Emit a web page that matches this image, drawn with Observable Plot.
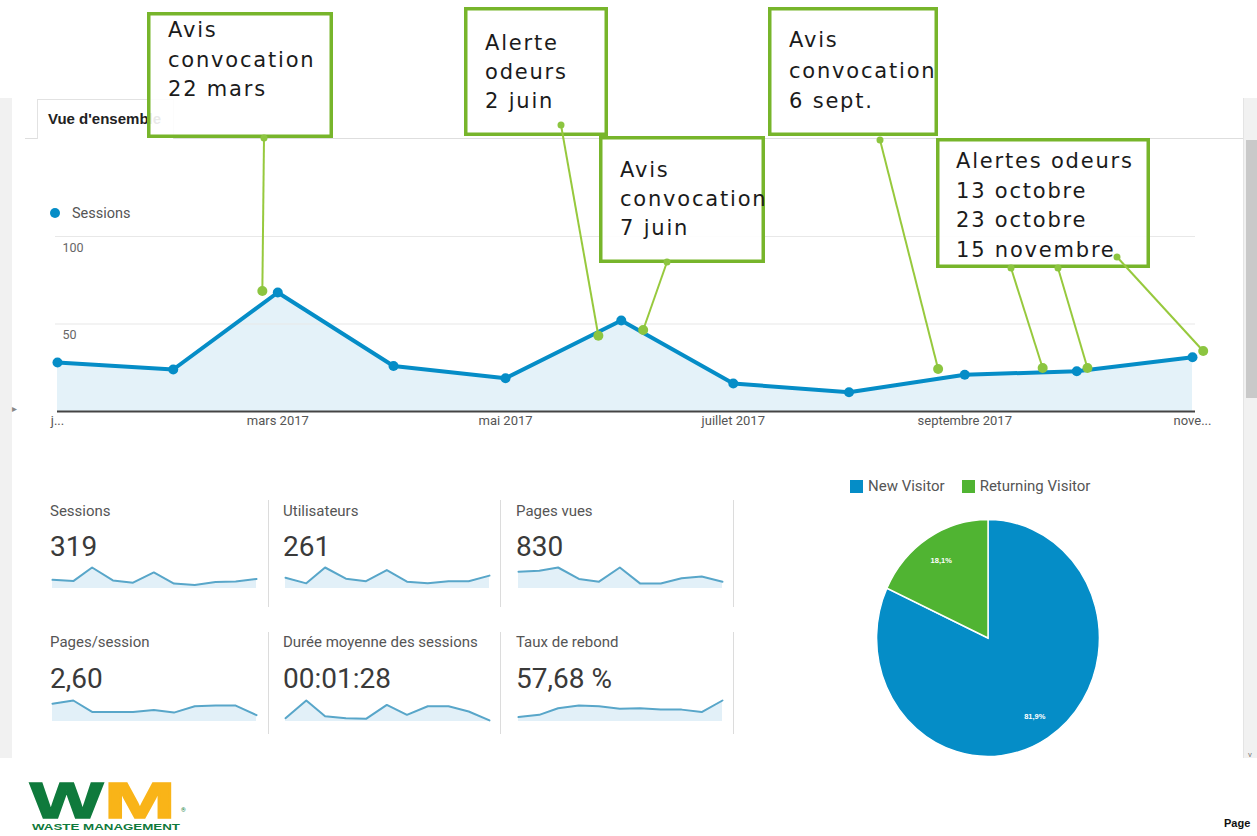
<!DOCTYPE html>
<html>
<head>
<meta charset="utf-8">
<script src="https://cdn.jsdelivr.net/npm/d3@7"></script>
<script src="https://cdn.jsdelivr.net/npm/@observablehq/plot@0.6"></script>
<style>
html, body { margin: 0; padding: 0; background: #fff; }
body { width: 1257px; height: 836px; overflow: hidden; position: relative; font-family: Roboto, "Liberation Sans", Arial, sans-serif; }
.abs { position: absolute; }
.kpi-label { font-size: 15px; line-height: 15px; color: #555; white-space: nowrap; }
.kpi-value { font-size: 28px; line-height: 28px; color: #3a3a3a; white-space: nowrap; }
.sep { position: absolute; width: 1px; background: #dcdcdc; }
#pieLegend > div { font-family: Roboto, Arial, sans-serif !important; font-size: 15px !important; color: #555 !important; min-height: 0 !important; margin: 0 !important; }
#pieLegend span { margin-right: 17px !important; }
#pieLegend svg { margin-right: 5px !important; }
</style>
</head>
<body>
<script>
// ---------------- DATA ----------------
const months = ["2017-01-01","2017-02-01","2017-03-01","2017-04-01","2017-05-01","2017-06-01","2017-07-01","2017-08-01","2017-09-01","2017-10-01","2017-11-01"];
const sessions = [28, 24, 68, 26, 19, 52, 16, 11, 21, 23, 31];

const xTickDates = ["2017-01-01","2017-03-01","2017-05-01","2017-07-01","2017-09-01","2017-11-01"];
const xTickLabels = ["j...","mars 2017","mai 2017","juillet 2017","septembre 2017","nove..."];
const yTicks = [50, 100];
const legendLabel = "Sessions";
const tabLabel = "Vue d'ensemble";

const annotationTexts = [
  ["Avis","convocation","22 mars"],
  ["Alerte","odeurs","2 juin"],
  ["Avis","convocation","7 juin"],
  ["Avis","convocation","6 sept."],
  ["Alertes odeurs","13 octobre","23 octobre","15 novembre"]
];
// green marker on the curve for each leader line (date, sessions) and the box it belongs to
const annotationDates  = ["2017-02-25","2017-05-26","2017-06-07","2017-08-25","2017-09-22","2017-10-04","2017-11-04"];
const annotationValues = [68.6, 43, 46.3, 24, 24.6, 24.6, 34.3];
const annotationBoxOf  = [0, 1, 2, 3, 4, 4, 4];

const kpiLabels = ["Sessions","Utilisateurs","Pages vues","Pages/session","Durée moyenne des sessions","Taux de rebond"];
const kpiValues = ["319","261","830","2,60","00:01:28","57,68 %"];
const sparkSessions       = sessions;
const sparkUsers          = [25, 12, 49, 23, 17, 43, 16, 12, 17, 17, 30];
const sparkPageviews      = [106, 111, 132, 60, 43, 132, 32, 32, 64, 75, 43];
const sparkPagesPerSession= [2.8, 3.3, 1.5, 1.5, 1.5, 1.8, 1.4, 2.4, 2.5, 2.5, 1.0];
const sparkDuration       = [25, 158, 40, 25, 20, 125, 50, 115, 115, 75, 8];
const sparkBounce         = [16, 24, 48, 58, 55, 46, 48, 43, 43, 34, 76];

const visitorTypes  = ["New Visitor","Returning Visitor"];
const visitorShares = [81.9, 18.1];
const visitorLabels = ["81,9%","18,1%"];

const logoLetters = ["W","M"];
const logoName = "WASTE MANAGEMENT";
const pageLabel = "Page";

// ---------------- LAYOUT (pixels) ----------------
const LAYOUT = {
  boxes: [
    {x0:147, y0:12,  x1:333,  y1:138, tx:168, ty:37,  lh:29.5},
    {x0:464, y0:7,   x1:608,  y1:136, tx:485, ty:50,  lh:29},
    {x0:599, y0:136, x1:765,  y1:263, tx:620, ty:177, lh:29},
    {x0:768, y0:7,   x1:938,  y1:136, tx:789, ty:47,  lh:30.5},
    {x0:936, y0:138, x1:1150, y1:268, tx:956, ty:168, lh:29.6}
  ],
  anchors: [[264,138],[561,125],[667,262],[880,140],[1011,268],[1058,268],[1117,257]],
  kpiCols: [50, 283, 516],
  kpiRows: [{label:504, value:533, spark:566}, {label:635, value:665, spark:699}]
};
const C = {
  blue: "#058dc7", area: "#e4f2f9", grid: "#e8e8e8", axis: "#444",
  boxStroke: "#77b52b", leader: "#97c93d", leaderDot: "#8cc540",
  spark: "#58a6c9", sparkFill: "#e2f0f8", green: "#50b432"
};

function add(html, style) {
  const d = document.createElement("div");
  d.className = "abs";
  if (html != null) d.textContent = html;
  Object.assign(d.style, style);
  document.body.appendChild(d);
  return d;
}

// ---------------- PANEL DECORATION ----------------
add(null, {left:"0px", top:"98px", width:"12px", height:"660px", background:"#f1f1f1"});
add(null, {left:"25px", top:"138px", width:"1218px", height:"1px", background:"#dedede"});
add(null, {left:"37px", top:"99px", width:"135px", height:"39px", background:"#fff",
  borderLeft:"1px solid #e2e2e2", borderTop:"1px solid #e2e2e2", borderRight:"1px solid #e2e2e2"});
add(tabLabel, {left:"48px", top:"110px", fontSize:"15px", fontWeight:"bold", color:"#222",
  fontFamily:"'Liberation Sans', Arial, sans-serif", whiteSpace:"nowrap"});
add(null, {left:"1243px", top:"98px", width:"14px", height:"660px", background:"#f1f1f1", borderLeft:"1px solid #e4e4e4"});
add(null, {left:"1246px", top:"140px", width:"11px", height:"258px", background:"#c9c9c9"});
add("\u25B8", {left:"12px", top:"403px", fontSize:"10px", color:"#888"});
add("v", {left:"1248px", top:"750px", fontSize:"8px", color:"#777"});

// Sessions legend
add(null, {left:"50px", top:"208px", width:"10px", height:"10px", borderRadius:"50%", background:C.blue});
add(legendLabel, {left:"72px", top:"206px", fontSize:"14.5px", lineHeight:"15px", color:"#555"});

// ---------------- MAIN CHART ----------------
const data = months.map((m, i) => ({date: new Date(m), value: sessions[i]}));
const ticks = xTickDates.map((d, i) => ({date: new Date(d), label: xTickLabels[i]}));

function annotations(index, scales) {
  const g = d3.create("svg:g");
  const sw = 3.5;
  LAYOUT.boxes.forEach((b, i) => {
    g.append("rect")
      .attr("x", b.x0 + sw / 2).attr("y", b.y0 + sw / 2)
      .attr("width", b.x1 - b.x0 - sw).attr("height", b.y1 - b.y0 - sw)
      .attr("fill", "white").attr("fill-opacity", 0.9)
      .attr("stroke", C.boxStroke).attr("stroke-width", sw);
    const t = g.append("text")
      .attr("text-anchor", "start")
      .attr("font-family", "'DejaVu Sans', Verdana, sans-serif")
      .attr("font-size", 21).attr("fill", "#1b1b1b")
      .style("letter-spacing", "1.8px");
    annotationTexts[i].forEach((line, j) =>
      t.append("tspan").attr("x", b.tx).attr("y", b.ty + j * b.lh).text(line));
  });
  annotationDates.forEach((d, i) => {
    const [ax, ay] = LAYOUT.anchors[i];
    const px = scales.x(new Date(d)), py = scales.y(annotationValues[i]);
    g.append("line").attr("x1", ax).attr("y1", ay).attr("x2", px).attr("y2", py)
      .attr("stroke", C.leader).attr("stroke-width", 2);
    g.append("circle").attr("cx", ax).attr("cy", ay).attr("r", 3.5).attr("fill", C.leaderDot);
    g.append("circle").attr("cx", px).attr("cy", py).attr("r", 5).attr("fill", C.leaderDot);
  });
  return g.node();
}

const main = Plot.plot({
  width: 1257, height: 440,
  marginLeft: 57, marginRight: 65, marginTop: 236, marginBottom: 29,
  x: {type: "time", domain: [new Date(months[0]), new Date(months[months.length - 1])], axis: null},
  y: {domain: [0, 100], axis: null},
  style: {background: "transparent", overflow: "visible", fontFamily: "Roboto, Arial, sans-serif"},
  marks: [
    Plot.areaY(data, {x: "date", y: "value", fill: C.area}),
    Plot.ruleY(yTicks, {stroke: C.grid, strokeWidth: 1.2, insetLeft: -2, insetRight: -3}),
    Plot.ruleY([0], {stroke: C.axis, strokeWidth: 2, insetRight: -3}),
    Plot.line(data, {x: "date", y: "value", stroke: C.blue, strokeWidth: 4}),
    Plot.dot(data, {x: "date", y: "value", r: 5, fill: C.blue}),
    Plot.text(ticks, {x: "date", text: "label", frameAnchor: "bottom", dy: 13, fontSize: 13, fill: "#555"}),
    Plot.text(yTicks, {y: d => d, text: d => String(d), frameAnchor: "left", textAnchor: "start", dx: 5, dy: 11, fontSize: 12.5, fill: "#666"}),
    annotations
  ]
});
main.style.position = "absolute";
main.style.left = "0px";
main.style.top = "0px";
main.style.zIndex = "2";
document.body.appendChild(main);

// ---------------- KPI BLOCKS ----------------
const sparkSeries = [sparkSessions, sparkUsers, sparkPageviews, sparkPagesPerSession, sparkDuration, sparkBounce];
function spark(values) {
  const d = months.map((m, i) => ({date: new Date(m), v: values[i]}));
  return Plot.plot({
    width: 206, height: 23, marginLeft: 1, marginRight: 1, marginTop: 1, marginBottom: 1,
    x: {type: "time", axis: null},
    y: {domain: [0, d3.max(values)], axis: null},
    style: {background: "transparent", overflow: "visible"},
    marks: [
      Plot.areaY(d, {x: "date", y: "v", fill: C.sparkFill}),
      Plot.line(d, {x: "date", y: "v", stroke: C.spark, strokeWidth: 2})
    ]
  });
}
kpiLabels.forEach((lab, i) => {
  const col = i % 3, row = Math.floor(i / 3);
  const x = LAYOUT.kpiCols[col], r = LAYOUT.kpiRows[row];
  const l = add(lab, {left: x + "px", top: r.label + "px"}); l.classList.add("kpi-label");
  const v = add(kpiValues[i], {left: x + "px", top: r.value + "px"}); v.classList.add("kpi-value");
  const s = spark(sparkSeries[i]);
  s.style.position = "absolute";
  s.style.left = (x + 1) + "px";
  s.style.top = r.spark + "px";
  document.body.appendChild(s);
});
[268, 500, 733].forEach(x => {
  add(null, {left: x + "px", top: "500px", height: "107px"}).className = "sep";
  add(null, {left: x + "px", top: "632px", height: "102px"}).className = "sep";
});

// ---------------- PIE ----------------
const visitors = visitorTypes.map((t, i) => ({type: t, share: visitorShares[i], label: visitorLabels[i]}));
function pieMark(index, scales, values, dims) {
  const cx = dims.width / 2, cy = dims.height / 2, R = 118.5;
  const arcs = d3.pie().sort(null).value(d => d.share)(visitors);
  const arc = d3.arc().innerRadius(0).outerRadius(R);
  const lab = d3.arc().innerRadius(R * 0.78).outerRadius(R * 0.78);
  const g = d3.create("svg:g").attr("transform", `translate(${cx},${cy}) scale(0.94,1)`);
  g.selectAll("path").data(arcs).join("path")
    .attr("d", arc).attr("fill", d => scales.color(d.data.type))
    .attr("stroke", "white").attr("stroke-width", 1.5);
  g.selectAll("text").data(arcs).join("text")
    .attr("transform", d => `translate(${lab.centroid(d)})`)
    .attr("text-anchor", "middle").attr("dy", "0.35em")
    .attr("fill", "white").attr("font-size", 8).attr("font-weight", "bold")
    .attr("font-family", "Arial, sans-serif")
    .text(d => d.data.label);
  return g.node();
}
const pie = Plot.plot({
  width: 250, height: 250, margin: 0,
  color: {domain: visitorTypes, range: [C.blue, C.green]},
  style: {background: "transparent", overflow: "visible"},
  marks: [
    Plot.dot(visitors, {fill: "type", r: 0, frameAnchor: "middle"}),
    pieMark
  ]
});
pie.style.position = "absolute";
pie.style.left = "863px";
pie.style.top = "513px";
document.body.appendChild(pie);

const legendHolder = add(null, {left: "850px", top: "477px"});
legendHolder.id = "pieLegend";
legendHolder.appendChild(pie.legend("color", {swatchSize: 13}));

// ---------------- LOGO & FOOTER ----------------
const logo = d3.create("svg").attr("width", 200).attr("height", 66)
  .style("position", "absolute").style("left", "28px").style("top", "770px").style("overflow", "visible");
logo.append("text").attr("x", 0).attr("y", 0)
  .attr("transform", "translate(2,48) scale(1.55,1)")
  .attr("font-family", "'Liberation Sans', Arial, sans-serif").attr("font-weight", "bold")
  .attr("font-size", 50).attr("fill", "#0f7a3c").attr("stroke", "#0f7a3c").attr("stroke-width", 1.5)
  .text(logoLetters[0]);
logo.append("text").attr("x", 0).attr("y", 0)
  .attr("transform", "translate(76,48) scale(1.72,1)")
  .attr("font-family", "'Liberation Sans', Arial, sans-serif").attr("font-weight", "bold")
  .attr("font-size", 50).attr("fill", "#f9b418").attr("stroke", "#f9b418").attr("stroke-width", 1.5)
  .text(logoLetters[1]);
logo.append("text").attr("x", 153).attr("y", 42).attr("font-size", 6).attr("fill", "#0f7a3c").text("\u00AE");
logo.append("text").attr("x", 4).attr("y", 60)
  .attr("font-family", "'Liberation Sans', Arial, sans-serif").attr("font-weight", "bold")
  .attr("font-size", 8.5).attr("fill", "#0f7a3c")
  .attr("textLength", 148).attr("lengthAdjust", "spacingAndGlyphs")
  .text(logoName);
document.body.appendChild(logo.node());

add(pageLabel, {left: "1224px", top: "817px", fontSize: "11px", fontWeight: "bold", color: "#111",
  fontFamily: "'Liberation Sans Narrow', 'Liberation Sans', Arial, sans-serif"});
</script>
</body>
</html>
